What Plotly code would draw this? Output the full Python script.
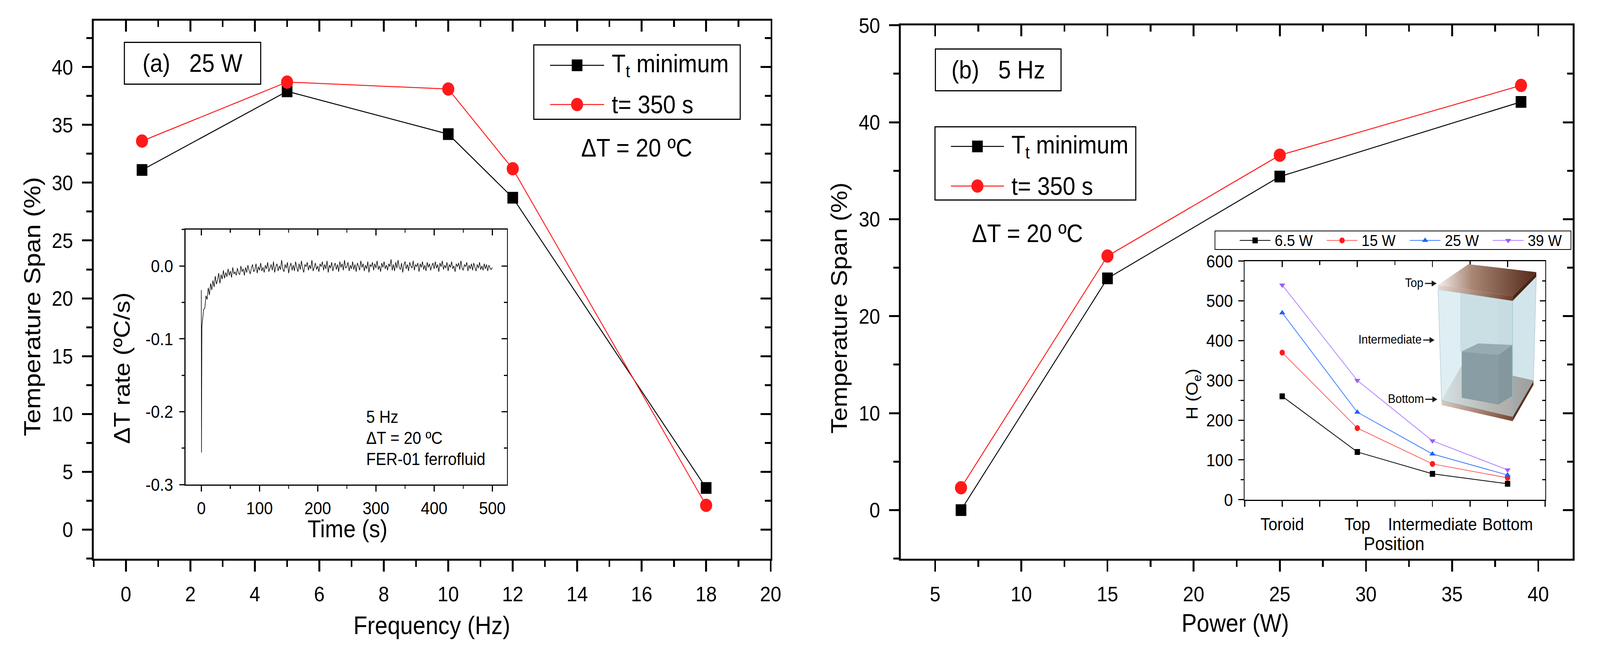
import plotly.graph_objects as go

# ---- data ----
# (a) 25 W, frequency sweep
freq = [0.5, 5, 10, 12, 18]
span_freq_min = [31.1, 37.9, 34.2, 28.7, 3.6]
span_freq_350 = [33.6, 38.7, 38.1, 31.2, 2.1]

# (b) 5 Hz, power sweep
power = [6.5, 15, 25, 39]
span_pow_min = [0.0, 23.9, 34.4, 42.1]
span_pow_350 = [2.3, 26.2, 36.6, 43.8]

# inset (a): dT rate vs time (5 Hz, FER-01)
time_s = [0, 0.3, 1,
          2, 4, 6, 8, 10, 12, 14, 16, 18, 20,
          22, 24, 26, 28, 30, 32, 34, 36, 38, 40,
          42, 44, 46, 48, 50, 52, 54, 56, 58, 60,
          62, 64, 66, 68, 70, 72, 74, 76, 78, 80,
          82, 84, 86, 88, 90, 92, 94, 96, 98, 100,
          102, 104, 106, 108, 110, 112, 114, 116, 118, 120,
          122, 124, 126, 128, 130, 132, 134, 136, 138, 140,
          142, 144, 146, 148, 150, 152, 154, 156, 158, 160,
          162, 164, 166, 168, 170, 172, 174, 176, 178, 180,
          182, 184, 186, 188, 190, 192, 194, 196, 198, 200,
          202, 204, 206, 208, 210, 212, 214, 216, 218, 220,
          222, 224, 226, 228, 230, 232, 234, 236, 238, 240,
          242, 244, 246, 248, 250, 252, 254, 256, 258, 260,
          262, 264, 266, 268, 270, 272, 274, 276, 278, 280,
          282, 284, 286, 288, 290, 292, 294, 296, 298, 300,
          302, 304, 306, 308, 310, 312, 314, 316, 318, 320,
          322, 324, 326, 328, 330, 332, 334, 336, 338, 340,
          342, 344, 346, 348, 350, 352, 354, 356, 358, 360,
          362, 364, 366, 368, 370, 372, 374, 376, 378, 380,
          382, 384, 386, 388, 390, 392, 394, 396, 398, 400,
          402, 404, 406, 408, 410, 412, 414, 416, 418, 420,
          422, 424, 426, 428, 430, 432, 434, 436, 438, 440,
          442, 444, 446, 448, 450, 452, 454, 456, 458, 460,
          462, 464, 466, 468, 470, 472, 474, 476, 478, 480,
          482, 484, 486, 488, 490, 492, 494, 496, 498, 500]
dt_rate = [-0.033, -0.256, -0.083,
           -0.075, -0.060, -0.058, -0.041, -0.046, -0.030, -0.040, -0.024, -0.033, -0.020,
           -0.029, -0.014, -0.025, -0.019, -0.010, -0.024, -0.012, -0.018, -0.006, -0.017,
           -0.009, -0.015, -0.004, -0.013, -0.007, -0.016, -0.002, -0.011, -0.008, -0.013,
           -0.003, -0.010, -0.012, 0.000, -0.008, -0.004, -0.013, -0.002, -0.009, 0.001,
           -0.006, -0.011, -0.003, 0.002, -0.008, -0.005, 0.003, -0.010, -0.001, -0.006,
           0.004, -0.007, -0.002, -0.009, 0.001, -0.004, 0.005, -0.008, -0.003, 0.002,
           -0.006, 0.006, -0.009, -0.001, 0.003, -0.007, 0.000, -0.005, 0.008, -0.004,
           -0.008, 0.002, -0.003, 0.005, -0.010, -0.001, 0.004, -0.006, 0.001, -0.007,
           0.006, -0.002, -0.008, 0.003, -0.005, 0.007, -0.003, -0.009, 0.002, -0.001,
           0.005, -0.006, 0.001, -0.004, 0.008, -0.007, -0.002, 0.004, -0.005, 0.000,
           -0.008, 0.003, -0.001, 0.006, -0.006, 0.002, -0.004, 0.007, -0.009, 0.001,
           -0.003, 0.005, -0.007, 0.000, 0.004, -0.005, 0.002, -0.008, 0.006, -0.002,
           0.003, -0.006, 0.008, -0.003, -0.001, 0.005, -0.007, 0.001, -0.004, 0.006,
           -0.005, 0.002, -0.008, 0.004, 0.000, -0.006, 0.007, -0.002, 0.003, -0.007,
           0.001, -0.004, 0.006, -0.009, 0.002, -0.001, 0.005, -0.006, 0.003, -0.003,
           0.007, -0.005, 0.000, -0.008, 0.004, -0.002, 0.006, -0.004, 0.001, -0.006,
           0.003, -0.001, 0.009, -0.006, 0.002, -0.007, 0.005, -0.003, 0.008, -0.002,
           -0.005, 0.004, -0.009, 0.001, 0.006, -0.004, 0.002, -0.007, 0.005, 0.000,
           -0.003, 0.007, -0.006, 0.002, -0.001, 0.004, -0.008, 0.003, -0.002, 0.006,
           -0.005, 0.001, -0.007, 0.005, -0.002, 0.003, -0.006, 0.000, 0.004, -0.004,
           0.006, -0.003, 0.002, -0.008, 0.004, -0.001, 0.007, -0.005, 0.001, -0.003,
           0.005, -0.007, 0.002, -0.002, 0.006, -0.004, 0.000, -0.008, 0.003, -0.001,
           0.004, -0.005, 0.007, -0.003, -0.006, 0.002, -0.001, 0.005, -0.007, 0.001,
           -0.004, 0.003, -0.006, 0.004, -0.002, -0.007, 0.002, -0.003, 0.005, -0.005,
           0.000, -0.006, 0.003, -0.004, 0.002, -0.007, 0.001, -0.003, -0.005, -0.002]
rate_ticks = [-0.3, -0.2, -0.1, 0.0]
rate_labels = ["-0.3", "-0.2", "-0.1", "0.0"]

# inset (b): field at each position
positions = ["Toroid", "Top", "Intermediate", "Bottom"]
pos_idx = [0, 1, 2, 3]
h_6w5 = [260, 120, 65, 40]
h_15w = [370, 180, 90, 55]
h_25w = [470, 220, 115, 62]
h_39w = [540, 300, 148, 75]

# ---- page geometry (pixels of the 4496x1675 page) ----
W, H = 4496, 1675
FONT = "Arial, Liberation Sans, sans-serif"
NARROW = "Liberation Sans Narrow, Arial Narrow, Liberation Sans, Arial, sans-serif"
RED = "#ff1a1a"


def fx(x):
    return x / W


def fy(y):
    return 1 - y / H


def dom_x(a, b):
    return [fx(a), fx(b)]


def dom_y(top, bottom):
    return [fy(bottom), fy(top)]


def axis(big=True, **kw):
    lw = 5 if big else 3
    d = dict(showline=True, linecolor="black", linewidth=lw, showgrid=False,
             zeroline=False, ticks="outside", ticklen=28 if big else 15,
             tickwidth=lw, tickcolor="black",
             tickfont=dict(family=FONT, size=54 if big else 45, color="black"))
    d.update(kw)
    return d


def mirror(big=True, **kw):
    lw = 5 if big else 3
    d = dict(showline=True, linecolor="black", linewidth=lw, showgrid=False,
             zeroline=False, ticks="inside", ticklen=28 if big else 15,
             tickwidth=lw, tickcolor="black", showticklabels=False)
    d.update(kw)
    return d


def minor(step, big=True, inside=False):
    return dict(dtick=step, ticks="inside" if inside else "outside",
                ticklen=16 if big else 8, tickwidth=5 if big else 3,
                tickcolor="black")


fig = go.Figure()

# ---- main (a) ----
fig.add_trace(go.Scatter(x=freq, y=span_freq_min, name="Tt minimum", mode="lines+markers",
                         line=dict(color="black", width=2.5),
                         marker=dict(symbol="square", size=30, color="black"),
                         xaxis="x", yaxis="y", showlegend=False))
fig.add_trace(go.Scatter(x=freq, y=span_freq_350, name="t= 350 s", mode="lines+markers",
                         line=dict(color=RED, width=2.5),
                         marker=dict(symbol="circle", size=34, color=RED),
                         xaxis="x", yaxis="y", showlegend=False))

# ---- inset (a) ----
fig.add_trace(go.Scatter(x=time_s, y=dt_rate, mode="lines",
                         line=dict(color="black", width=1.6),
                         xaxis="x3", yaxis="y3", showlegend=False))

# ---- main (b) ----
fig.add_trace(go.Scatter(x=power, y=span_pow_min, name="Tt minimum", mode="lines+markers",
                         line=dict(color="black", width=2.5),
                         marker=dict(symbol="square", size=30, color="black"),
                         xaxis="x5", yaxis="y5", showlegend=False))
fig.add_trace(go.Scatter(x=power, y=span_pow_350, name="t= 350 s", mode="lines+markers",
                         line=dict(color=RED, width=2.5),
                         marker=dict(symbol="circle", size=34, color=RED),
                         xaxis="x5", yaxis="y5", showlegend=False))

# ---- inset (b) ----
inset_series = [
    ("6.5 W", h_6w5, "black", "black", "square"),
    ("15 W", h_15w, "#ff5a5a", "#ff1a1a", "circle"),
    ("25 W", h_25w, "#3b7bff", "#1f5eff", "triangle-up"),
    ("39 W", h_39w, "#b07cff", "#9a5cf5", "triangle-down"),
]
for name, vals, lc, mc, sym in inset_series:
    fig.add_trace(go.Scatter(x=pos_idx, y=vals, name=name, mode="lines+markers",
                             line=dict(color=lc, width=2),
                             marker=dict(symbol=sym, size=15, color=mc),
                             xaxis="x7", yaxis="y7", showlegend=False))

# empty traces so that every mirror axis pair exists
for xa, ya in [("x2", "y"), ("x", "y2"), ("x4", "y3"), ("x3", "y4"),
               ("x6", "y5"), ("x5", "y6"), ("x8", "y7"), ("x7", "y8")]:
    fig.add_trace(go.Scatter(x=[None], y=[None], xaxis=xa, yaxis=ya,
                             showlegend=False, hoverinfo="skip"))


# ---- decorations drawn in page pixels (axis x9/y9) ----
def poly(pts, color=None, gradient=None, edge=None, ew=1):
    xs = [p[0] for p in pts] + [pts[0][0]]
    ys = [p[1] for p in pts] + [pts[0][1]]
    kw = dict(x=xs, y=ys, mode="lines", fill="toself", xaxis="x9", yaxis="y9",
              showlegend=False, hoverinfo="skip",
              line=dict(color=edge or "rgba(0,0,0,0)", width=ew if edge else 0))
    if gradient:
        kw["fillgradient"] = dict(type="horizontal", colorscale=gradient)
    else:
        kw["fillcolor"] = color
    fig.add_trace(go.Scatter(**kw))


# bottom plate
poly([(4078, 1030), (4279, 1073), (4338, 977), (4137, 934)],
     gradient=[[0, "#e9e2e0"], [0.55, "#a88575"], [1, "#7c5040"]])
poly([(4078, 1030), (4279, 1073), (4279, 1085), (4078, 1042)],
     gradient=[[0, "#d9c9c2"], [1, "#7a4530"]])
poly([(4279, 1073), (4338, 977), (4338, 989), (4279, 1085)], color="#5a2f1f")
# darker inner column seen through the walls
poly([(4131, 742), (4239, 757), (4239, 909), (4131, 900)], color="rgba(120,158,168,0.35)")
poly([(4239, 757), (4278, 742), (4278, 883), (4239, 909)], color="rgba(100,140,150,0.35)")
# ferrofluid block
poly([(4135, 900), (4239, 909), (4239, 1041), (4135, 1023)], color="#3f4d53")
poly([(4239, 909), (4278, 883), (4278, 1018), (4239, 1041)], color="#333f43")
poly([(4135, 900), (4182, 879), (4278, 883), (4239, 909)], color="#5d6c71")
# translucent walls
poly([(4068, 736), (4279, 766), (4279, 1073), (4078, 1030)],
     color="rgba(196,224,232,0.55)", edge="rgba(140,185,195,0.9)")
poly([(4279, 766), (4346, 702), (4338, 978), (4279, 1073)],
     color="rgba(180,212,222,0.6)", edge="rgba(140,185,195,0.9)")
# top plate
poly([(4068, 724), (4154, 669), (4346, 690), (4279, 754)],
     gradient=[[0, "#f4eeec"], [0.35, "#a88574"], [1, "#552a1a"]])
poly([(4068, 724), (4279, 754), (4279, 766), (4068, 736)],
     gradient=[[0, "#e6d8d2"], [1, "#6e3b27"]])
poly([(4279, 754), (4346, 690), (4346, 702), (4279, 766)], color="#4a2415")

# little arrows pointing at the three probe positions
for tail_x, tip_x, y in [(4031, 4064, 720), (4026, 4058, 870), (4032, 4066, 1027)]:
    fig.add_trace(go.Scatter(x=[tail_x, tip_x - 10], y=[y, y], mode="lines", xaxis="x9", yaxis="y9",
                             line=dict(color="#1a1a1a", width=3), showlegend=False, hoverinfo="skip"))
    poly([(tip_x - 14, y - 8), (tip_x, y), (tip_x - 14, y + 8)], color="#1a1a1a")


# legend samples
def sample(x0, x1, y, lc, mc, sym, size, lw):
    fig.add_trace(go.Scatter(x=[x0, x1], y=[y, y], mode="lines", xaxis="x9", yaxis="y9",
                             line=dict(color=lc, width=lw), showlegend=False, hoverinfo="skip"))
    fig.add_trace(go.Scatter(x=[(x0 + x1) / 2], y=[y], mode="markers", xaxis="x9", yaxis="y9",
                             marker=dict(symbol=sym, size=size, color=mc),
                             showlegend=False, hoverinfo="skip"))


sample(1556, 1709, 142, "black", "black", "square", 30, 2.5)
sample(1556, 1709, 246, RED, RED, "circle", 34, 2.5)
sample(2690, 2840, 357, "black", "black", "square", 30, 2.5)
sample(2690, 2840, 462, RED, RED, "circle", 34, 2.5)
inset_leg_x = [3507, 3753, 3988, 4223]
for (name, vals, lc, mc, sym), x0 in zip(inset_series, inset_leg_x):
    sample(x0, x0 + 87, 606, lc, mc, sym, 15, 2)

# ---- layout ----
lay = dict(
    width=W, height=H, autosize=False,
    margin=dict(l=0, r=0, t=0, b=0),
    paper_bgcolor="white", plot_bgcolor="rgba(0,0,0,0)",
    font=dict(family=FONT, color="black"),
    showlegend=False,
)
# (a) main
lay["xaxis"] = axis(domain=dom_x(265, 2180), anchor="y", range=[-1, 20], tick0=0, dtick=2,
                    minor=minor(1), ticklabelstandoff=12)
lay["yaxis"] = axis(domain=dom_y(24, 1449), anchor="x", range=[-2.5, 44], tick0=0, dtick=5,
                    minor=minor(2.5), ticklabelstandoff=14)
lay["xaxis2"] = mirror(overlaying="x", side="top", anchor="y", range=[-1, 20], tick0=0, dtick=2,
                       minor=minor(1, inside=True))
lay["yaxis2"] = mirror(overlaying="y", side="right", anchor="x", range=[-2.5, 44], tick0=0, dtick=5,
                       minor=minor(2.5, inside=True))
# (a) inset
lay["xaxis3"] = axis(False, domain=dom_x(525, 1434), anchor="y3", range=[-27, 525], tick0=0, dtick=100,
                     minor=minor(50, False), ticklabelstandoff=4)
lay["yaxis3"] = axis(False, domain=dom_y(577, 1253), anchor="x3", range=[-0.3, 0.05],
                     tickmode="array", tickvals=rate_ticks, ticktext=rate_labels,
                     minor=minor(0.05, False), ticklabelstandoff=8)
lay["xaxis4"] = mirror(False, overlaying="x3", side="top", anchor="y3", range=[-27, 525], tick0=0,
                       dtick=100, minor=minor(50, False, True))
lay["yaxis4"] = mirror(False, overlaying="y3", side="right", anchor="x3", range=[-0.3, 0.05],
                       tickmode="array", tickvals=rate_ticks, minor=minor(0.05, False, True))
# (b) main
lay["xaxis5"] = axis(domain=dom_x(2548, 4449), anchor="y5", range=[3, 42], tick0=0, dtick=5,
                     minor=minor(2.5), ticklabelstandoff=12)
lay["yaxis5"] = axis(domain=dom_y(36, 1449), anchor="x5", range=[-5, 50], tick0=0, dtick=10,
                     minor=minor(5), ticklabelstandoff=14)
lay["xaxis6"] = mirror(overlaying="x5", side="top", anchor="y5", range=[3, 42], tick0=0, dtick=5,
                       minor=minor(2.5, inside=True))
lay["yaxis6"] = mirror(overlaying="y5", side="right", anchor="x5", range=[-5, 50], tick0=0, dtick=10,
                       minor=minor(5, inside=True))
# (b) inset
lay["xaxis7"] = axis(False, domain=dom_x(3521, 4371), anchor="y7", range=[-0.5, 3.5],
                     tickmode="array", tickvals=pos_idx, ticktext=positions,
                     tickfont=dict(family=NARROW, size=45, color="black"),
                     minor=dict(tickmode="array", tickvals=[-0.5, 0.5, 1.5, 2.5, 3.5], ticks="outside",
                                ticklen=15, tickwidth=3, tickcolor="black"),
                     ticklabelstandoff=6)
lay["yaxis7"] = axis(False, domain=dom_y(661, 1293), anchor="x7", range=[0, 600], tick0=0, dtick=100,
                     tickfont=dict(family=NARROW, size=45, color="black"),
                     minor=minor(50, False), ticklabelstandoff=6)
lay["xaxis8"] = mirror(False, overlaying="x7", side="top", anchor="y7", range=[-0.5, 3.5],
                       tickmode="array", tickvals=pos_idx,
                       minor=dict(tickmode="array", tickvals=[0.5, 1.5, 2.5], ticks="inside",
                                  ticklen=10, tickwidth=3, tickcolor="black"))
lay["yaxis8"] = mirror(False, overlaying="y7", side="right", anchor="x7", range=[0, 600], tick0=0,
                       dtick=100, minor=minor(50, False, True))
# page-pixel drawing layer
lay["xaxis9"] = dict(domain=[0, 1], range=[0, W], visible=False, anchor="y9", fixedrange=True)
lay["yaxis9"] = dict(domain=[0, 1], range=[H, 0], visible=False, anchor="x9", fixedrange=True)
fig.update_layout(**lay)


# ---- text ----
def note(x, y, text, size, anchor="center", angle=0, family=FONT, **kw):
    fig.add_annotation(x=fx(x), y=fy(y), xref="paper", yref="paper", text=text,
                       showarrow=False, xanchor=anchor, yanchor="middle", textangle=angle,
                       font=dict(family=family, size=size, color="black"), **kw)


note(91, 781, "Temperature Span (%)", 66, angle=-90)
note(1222, 1626, "Frequency (Hz)", 64)
note(2373, 785, "Temperature Span (%)", 64, angle=-90)
note(3494, 1620, "Power (W)", 64)

note(545, 137, "(a)   25 W", 64, width=372, height=96, bordercolor="black", borderwidth=3, borderpad=4)
note(2824, 154, "(b)   5 Hz", 64, width=342, height=96, bordercolor="black", borderwidth=3, borderpad=4)

note(1729, 142, "T<sub>t</sub> minimum", 64, anchor="left")
note(1729, 246, "t= 350 s", 64, anchor="left")
note(2859, 357, "T<sub>t</sub> minimum", 64, anchor="left")
note(2859, 462, "t= 350 s", 64, anchor="left")
note(1801, 361, "ΔT = 20 ºC", 64)
note(2906, 588, "ΔT = 20 ºC", 64)

# inset (a) texts
note(345, 944, "ΔT rate (ºC/s)", 64, angle=-90)
note(983, 1370, "Time (s)", 62)
note(1034, 1073, "5 Hz", 44, anchor="left")
note(1034, 1129, "ΔT = 20 ºC", 44, anchor="left")
note(1034, 1185, "FER-01 ferrofluid", 44, anchor="left")

# inset (b) texts
note(3375, 1013, "H (O<sub>e</sub>)", 46, angle=-90)
note(3944, 1410, "Position", 48, family=NARROW)
for (name, *_), x0 in zip(inset_series, inset_leg_x):
    note(x0 + 97, 606, name, 41, anchor="left", family=NARROW)
note(4029, 718, "Top", 32, anchor="right", family=NARROW)
note(4024, 868, "Intermediate", 32, anchor="right", family=NARROW)
note(4030, 1025, "Bottom", 32, anchor="right", family=NARROW)

# legend frames
for x0, y0, x1, y1, w in [(1510, 88, 2094, 285, 3), (2645, 305, 3213, 499, 3), (3437, 581, 4444, 630, 2)]:
    fig.add_shape(type="rect", xref="paper", yref="paper", x0=fx(x0), x1=fx(x1), y0=fy(y1), y1=fy(y0),
                  line=dict(color="black", width=w), fillcolor="rgba(0,0,0,0)")

# the page is laid out on a 4496x1675 canvas; stretch that canvas over the window
fit_js = (
    "var gd = document.getElementById('{plot_id}');"
    "document.documentElement.style.overflow = 'hidden';"
    "document.body.style.margin = '0';"
    "document.body.style.overflow = 'hidden';"
    "var sx = window.innerWidth / 4496, sy = window.innerHeight / 1675;"
    "gd.style.transformOrigin = '0 0';"
    "gd.style.transform = 'scale(' + sx + ',' + sy + ')';"
)
fig.write_html("out.html", post_script=fit_js, config={"displayModeBar": False})
